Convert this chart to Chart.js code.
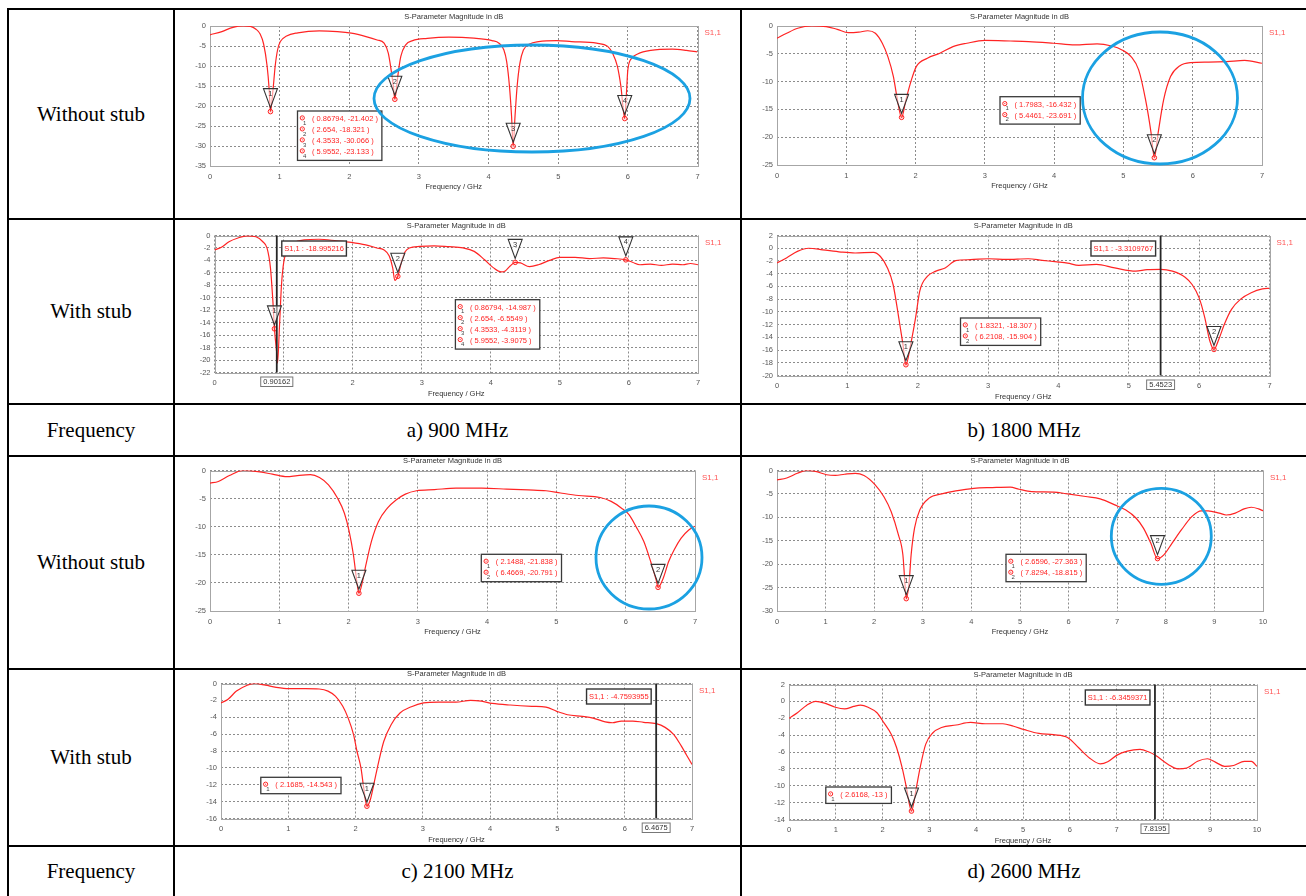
<!DOCTYPE html>
<html>
<head>
<meta charset="utf-8">
<script src="https://cdn.jsdelivr.net/npm/chart.js@4.4.1/dist/chart.umd.min.js"></script>
<style>
  html, body { margin: 0; padding: 0; background: #fff; }
  #page { position: relative; width: 1306px; height: 896px; overflow: hidden; background: #fff; }
  .hl, .vl { position: absolute; background: #000; z-index: 5; }
  .lbl { position: absolute; display: flex; align-items: center; justify-content: center;
         font-family: "Liberation Serif", "Times New Roman", serif; font-size: 21px; color: #000; }
  canvas { position: absolute; }
</style>
</head>
<body>
<div id="page"></div>
<script>
// ---- data (frequency in GHz, S11 in dB) ----
const c1Freq = [0, 0.17, 0.33, 0.48, 0.58, 0.66, 0.72, 0.77, 0.82, 0.85, 0.868, 0.905, 0.936, 0.97, 1.01, 1.1, 1.26, 1.57, 1.83, 2.03,
  2.24, 2.4, 2.5, 2.56, 2.6, 2.633, 2.654, 2.68, 2.705, 2.74, 2.81, 2.91, 3.12, 3.43, 3.79, 4.05, 4.15, 4.22, 4.26, 4.3,
  4.33, 4.353, 4.38, 4.41, 4.45, 4.5, 4.59, 4.72, 4.98, 5.19, 5.55, 5.71, 5.78, 5.85, 5.9, 5.955, 5.98, 6.0, 6.06, 6.14,
  6.33, 6.64, 6.84, 7.0];
const c1S11 = [-2.2, -1.4, -0.33, 0, -0.1, -0.8, -2.0, -4.5, -10, -15.9, -21.4, -15.9, -10, -6, -3.9, -2.5, -1.7, -1.2, -1.4, -1.8,
  -2.65, -3.5, -4.3, -6.8, -10.9, -15.1, -18.3, -15.1, -11.4, -7.6, -4.7, -3.65, -3.1, -2.8, -3.05, -3.65, -4.3, -6, -8.9, -15.1,
  -22.5, -30.07, -22.5, -15.1, -9.3, -6, -4.5, -3.9, -3.65, -3.9, -4.3, -5.1, -6.8, -10.1, -15.1, -23.1, -16.7, -10.9, -8.0, -7.0,
  -6.1, -5.8, -6.1, -6.5];
const c1MarkX = [0.86794, 2.654, 4.3533, 5.9552];
const c1MarkY = [-21.402, -18.321, -30.066, -23.133];

const c2Freq = [0, 0.14, 0.3, 0.5, 0.71, 0.87, 1.03, 1.18, 1.31, 1.42, 1.52, 1.6, 1.68, 1.73, 1.7983, 1.86, 1.94, 2.01, 2.17, 2.35,
  2.54, 2.74, 3.0, 3.37, 3.63, 3.99, 4.3, 4.62, 4.83, 4.98, 5.11, 5.22, 5.32, 5.4, 5.4461, 5.5, 5.58, 5.68, 5.81, 5.97,
  6.23, 6.49, 6.75, 7.0];
const c2S11 = [-2.2, -1.3, -0.4, 0, -0.1, -0.6, -1.2, -1.1, -0.85, -1.3, -3.1, -5.5, -9.1, -12.7, -16.43, -13.3, -9.7, -7.3, -5.8, -4.9,
  -3.7, -3.1, -2.6, -2.7, -2.8, -3.1, -3.4, -3.2, -3.6, -4.3, -5.5, -7.9, -13.3, -19.3, -23.69, -19.3, -13.3, -9.1, -7.2, -6.6,
  -6.5, -6.4, -6.2, -6.7];
const c2MarkX = [1.7983, 5.4461];
const c2MarkY = [-16.432, -23.691];

const c3Freq = [0, 0.1, 0.21, 0.34, 0.47, 0.6, 0.7, 0.76, 0.81, 0.845, 0.868, 0.9016, 0.912, 0.94, 0.97, 1.005, 1.07, 1.15, 1.3, 1.51,
  1.77, 1.98, 2.19, 2.35, 2.45, 2.53, 2.58, 2.61, 2.654, 2.71, 2.76, 2.82, 2.97, 3.18, 3.39, 3.6, 3.76, 3.91, 4.04, 4.15,
  4.21, 4.28, 4.353, 4.43, 4.56, 4.69, 4.85, 5.0, 5.22, 5.43, 5.63, 5.79, 5.955, 6.05, 6.16, 6.31, 6.47, 6.63, 6.78, 6.89,
  7.0];
const c3S11 = [-2.3, -1.9, -1.0, -0.4, -0.05, -0.2, -1.0, -2.0, -5.2, -10.5, -14.99, -19.0, -20.5, -14.8, -7.9, -4.1, -2.3, -1.2, -0.7, -0.6,
  -0.85, -1.1, -1.5, -2.0, -2.3, -3.3, -5.2, -7.2, -6.55, -4.1, -2.6, -2.0, -1.75, -1.65, -1.8, -2.0, -2.55, -3.9, -5.2, -5.85,
  -5.7, -4.9, -4.31, -4.4, -5.0, -4.7, -4.0, -3.5, -3.5, -3.7, -3.6, -3.7, -3.91, -4.3, -4.7, -4.6, -4.8, -4.6, -4.7, -4.5,
  -4.7];
const c3MarkX = [0.86794, 2.654, 4.3533, 5.9552];
const c3MarkY = [-14.987, -6.5549, -4.3119, -3.9075];
const c3CursorX = 0.90162;
const c3CursorVal = "-18.995216";

const c4Freq = [0, 0.14, 0.29, 0.45, 0.65, 0.91, 1.11, 1.37, 1.47, 1.57, 1.65, 1.73, 1.79, 1.8321, 1.9, 1.97, 2.03, 2.14, 2.26, 2.39,
  2.54, 2.75, 3.01, 3.26, 3.57, 3.77, 3.98, 4.13, 4.29, 4.54, 4.8, 5.1, 5.26, 5.4523, 5.62, 5.8, 5.9, 6.0, 6.08, 6.15,
  6.2108, 6.28, 6.36, 6.46, 6.59, 6.74, 6.9, 7.0];
const c4S11 = [-2.3, -1.5, -0.5, 0.0, -0.25, -0.6, -0.75, -0.65, -1.3, -3.1, -5.7, -10.9, -15.1, -18.31, -15.1, -10.9, -6.7, -4.4, -3.6, -3.1,
  -1.95, -1.8, -1.65, -1.75, -1.65, -1.9, -2.15, -2.35, -2.7, -2.55, -3.1, -3.6, -3.35, -3.31, -3.6, -4.55, -5.7, -7.8, -10.9, -14.5,
  -15.9, -14.3, -11.9, -9.6, -8.0, -7.0, -6.4, -6.3];
const c4MarkX = [1.8321, 6.2108];
const c4MarkY = [-18.307, -15.904];
const c4CursorX = 5.4523;
const c4CursorVal = "-3.3109767";

const c5Freq = [0, 0.12, 0.28, 0.48, 0.69, 0.9, 1.11, 1.26, 1.45, 1.58, 1.71, 1.84, 1.94, 2.01, 2.07, 2.12, 2.1488, 2.2, 2.25, 2.33,
  2.43, 2.56, 2.69, 2.82, 2.98, 3.24, 3.55, 3.92, 4.28, 4.59, 4.85, 5.06, 5.32, 5.63, 5.79, 5.94, 6.05, 6.15, 6.26, 6.36,
  6.44, 6.4669, 6.54, 6.62, 6.7, 6.8, 6.91, 7.0];
const c5S11 = [-2.25, -1.95, -0.9, 0, -0.2, -0.65, -1.1, -0.9, -0.75, -1.25, -2.55, -4.9, -7.6, -10.9, -15, -19.8, -21.84, -19.8, -16.8, -12.6,
  -9.1, -6.7, -5.2, -4.2, -3.6, -3.4, -3.15, -3.15, -3.3, -3.45, -3.6, -4.0, -4.45, -4.8, -5.5, -6.7, -7.9, -10, -12.6, -16.2,
  -19.5, -20.79, -19.2, -16.2, -14.1, -12.05, -10.6, -9.9];
const c5MarkX = [2.1488, 6.4669];
const c5MarkY = [-21.838, -20.791];

const c6Freq = [0, 0.2, 0.42, 0.61, 0.79, 1.02, 1.2, 1.39, 1.61, 1.79, 2.02, 2.2, 2.35, 2.5, 2.59, 2.63, 2.6596, 2.72, 2.76, 2.83,
  2.94, 3.13, 3.39, 3.68, 4.05, 4.43, 4.8, 4.98, 5.24, 5.69, 5.98, 6.35, 6.65, 6.95, 7.17, 7.39, 7.54, 7.69, 7.8294, 7.96,
  8.13, 8.32, 8.54, 8.73, 8.87, 9.1, 9.24, 9.43, 9.61, 9.76, 9.91, 10];
const c6S11 = [-2.0, -1.6, -0.6, 0, -0.2, -0.9, -1.05, -0.8, -0.6, -1.05, -3.05, -5.6, -8.8, -13.8, -18, -23.7, -27.36, -23.7, -18, -12.3,
  -8.4, -5.9, -5.0, -4.35, -3.8, -3.65, -3.55, -4.0, -4.5, -4.6, -5.0, -5.55, -6.05, -7.35, -8.4, -10.2, -12.3, -15.5, -18.82, -18,
  -15.5, -12.7, -9.8, -8.6, -8.6, -9.1, -9.5, -9.1, -8.2, -7.85, -8.2, -8.6];
const c6MarkX = [2.6596, 7.8294];
const c6MarkY = [-27.363, -18.815];

const c7Freq = [0, 0.1, 0.23, 0.39, 0.5, 0.66, 0.82, 1.01, 1.25, 1.46, 1.59, 1.7, 1.81, 1.89, 1.97, 2.02, 2.08, 2.12, 2.1685, 2.22,
  2.27, 2.34, 2.42, 2.53, 2.66, 2.83, 3.01, 3.23, 3.49, 3.71, 3.87, 4.03, 4.3, 4.62, 4.83, 4.99, 5.15, 5.37, 5.53, 5.71,
  5.82, 5.95, 6.12, 6.28, 6.4675, 6.6, 6.73, 6.84, 6.92, 7.0];
const c7S11 = [-2.3, -1.9, -0.9, -0.2, 0, -0.2, -0.45, -0.6, -0.6, -0.65, -0.9, -1.5, -2.7, -4.1, -6.05, -8.0, -10, -12.3, -14.54, -13.75,
  -12.0, -9.4, -6.85, -4.85, -3.5, -2.75, -2.3, -2.2, -2.2, -2.0, -2.1, -2.35, -2.55, -2.7, -2.8, -3.3, -3.7, -3.9, -4.1, -4.55,
  -4.65, -4.45, -4.45, -4.6, -4.76, -5.2, -6.05, -7.4, -8.5, -9.6];
const c7MarkX = [2.1685];
const c7MarkY = [-14.543];
const c7CursorX = 6.4675;
const c7CursorVal = "-4.7593955";

const c8Freq = [0, 0.18, 0.38, 0.57, 0.76, 0.99, 1.19, 1.38, 1.53, 1.69, 1.88, 2.03, 2.19, 2.3, 2.42, 2.51, 2.6168, 2.72, 2.8, 2.92,
  3.07, 3.26, 3.57, 3.88, 4.19, 4.57, 4.8, 5.03, 5.34, 5.65, 5.96, 6.19, 6.42, 6.65, 6.81, 7.0, 7.23, 7.5, 7.69, 7.8195,
  8.11, 8.31, 8.5, 8.73, 8.94, 9.11, 9.31, 9.5, 9.73, 9.88, 10];
const c8S11 = [-2.0, -1.35, -0.45, 0, -0.2, -0.7, -0.9, -0.6, -0.45, -0.7, -1.35, -2.55, -3.95, -5.5, -7.9, -10.25, -13, -10.25, -7.9, -5.1,
  -3.75, -3.1, -2.8, -2.5, -2.65, -2.65, -2.95, -3.35, -3.8, -3.95, -4.3, -5.5, -6.7, -7.4, -7.15, -6.4, -5.9, -5.7, -6.0, -6.35,
  -7.5, -8.0, -7.9, -7.1, -6.8, -7.2, -7.7, -7.6, -7.1, -7.1, -7.7];
const c8MarkX = [2.6168];
const c8MarkY = [-13];
const c8CursorX = 7.8195;
const c8CursorVal = "-6.3459371";

// table text
const rowLabels = ["Without stub", "With stub", "Frequency", "Without stub", "With stub", "Frequency"];
const bandLabels = ["a) 900 MHz", "b) 1800 MHz", "c) 2100 MHz", "d) 2600 MHz"];
const chartTitle = "S-Parameter Magnitude in dB";
const xTitle = "Frequency / GHz";
const seriesName = "S1,1";

// ---- layout (page pixels) ----
const page = document.getElementById("page");
const rowTops = [10, 220, 405, 457, 670, 847];
const rowBots = [218, 403, 455, 668, 845, 896];
const colX = [[9, 173], [175, 740], [742, 1306]];

function addLine(cls, x, y, w, h) {
  const d = document.createElement("div");
  d.className = cls;
  d.style.cssText = `left:${x}px;top:${y}px;width:${w}px;height:${h}px`;
  page.appendChild(d);
}
[8, 218, 403, 455, 668, 845].forEach(y => addLine("hl", 7, y, 1306 - 7, 2));
[7, 173, 740].forEach(x => addLine("vl", x, 8, 2, 896 - 8));

function addText(txt, x0, x1, y0, y1) {
  const d = document.createElement("div");
  d.className = "lbl";
  d.textContent = txt;
  d.style.cssText = `left:${x0}px;top:${y0}px;width:${x1 - x0}px;height:${y1 - y0}px`;
  page.appendChild(d);
}
rowLabels.forEach((t, i) => addText(t, colX[0][0], colX[0][1], rowTops[i], rowBots[i]));
addText(bandLabels[0], colX[1][0], colX[1][1], rowTops[2], rowBots[2]);
addText(bandLabels[1], colX[2][0], colX[2][1], rowTops[2], rowBots[2]);
addText(bandLabels[2], colX[1][0], colX[1][1], rowTops[5], rowBots[5]);
addText(bandLabels[3], colX[2][0], colX[2][1], rowTops[5], rowBots[5]);

const RED = "#ff2424";
const FONT = '7.5px "Liberation Sans", Arial, sans-serif';
const BLUE = "#1ba1e2";

const charts = [
  { cell: [175, 10, 565, 208], plot: [210, 697.5, 26, 166], xMax: 7, yMin: -35, yMax: 0, yStep: 5,
    freq: c1Freq, s11: c1S11, mx: c1MarkX, my: c1MarkY, legend: [297.5, 111], ellipse: [532, 98.5, 158, 53.5] },
  { cell: [742, 10, 564, 208], plot: [777, 1262, 26, 165], xMax: 7, yMin: -25, yMax: 0, yStep: 5,
    freq: c2Freq, s11: c2S11, mx: c2MarkX, my: c2MarkY, legend: [1000, 96.7], ellipse: [1160, 98, 77.5, 66] },
  { cell: [175, 220, 565, 183], plot: [214.5, 698, 235.5, 372.5], xMax: 7, yMin: -22, yMax: 0, yStep: 2,
    freq: c3Freq, s11: c3S11, mx: c3MarkX, my: c3MarkY, legend: [455.4, 299.7],
    cursorX: c3CursorX, cursorVal: c3CursorVal, cursorSide: "right" },
  { cell: [742, 220, 564, 183], plot: [777, 1269.5, 235.5, 375.5], xMax: 7, yMin: -20, yMax: 2, yStep: 2,
    freq: c4Freq, s11: c4S11, mx: c4MarkX, my: c4MarkY, legend: [960.5, 318],
    cursorX: c4CursorX, cursorVal: c4CursorVal, cursorSide: "left" },
  { cell: [175, 457, 565, 211], plot: [210, 695, 470.5, 611], xMax: 7, yMin: -25, yMax: 0, yStep: 5,
    freq: c5Freq, s11: c5S11, mx: c5MarkX, my: c5MarkY, legend: [481.3, 554.3], ellipse: [649, 557.5, 53, 51.5] },
  { cell: [742, 457, 564, 211], plot: [777, 1263, 470.5, 611], xMax: 10, yMin: -30, yMax: 0, yStep: 5,
    freq: c6Freq, s11: c6S11, mx: c6MarkX, my: c6MarkY, legend: [1006, 554.3], ellipse: [1161.3, 536.3, 50, 48] },
  { cell: [175, 670, 565, 175], plot: [221, 692, 683.5, 818.5], xMax: 7, yMin: -16, yMax: 0, yStep: 2,
    freq: c7Freq, s11: c7S11, mx: c7MarkX, my: c7MarkY, legend: [260.8, 777.3],
    cursorX: c7CursorX, cursorVal: c7CursorVal, cursorSide: "left" },
  { cell: [742, 670, 564, 175], plot: [789, 1257, 684.5, 819.5], xMax: 10, yMin: -14, yMax: 2, yStep: 2,
    freq: c8Freq, s11: c8S11, mx: c8MarkX, my: c8MarkY, legend: [825.8, 787],
    cursorX: c8CursorX, cursorVal: c8CursorVal, cursorSide: "left" }
];

function boxText(ctx, txt, x, y, w, h, border, bw, color) {
  ctx.fillStyle = "#fff";
  ctx.fillRect(x, y, w, h);
  ctx.strokeStyle = border;
  ctx.lineWidth = bw;
  ctx.strokeRect(x, y, w, h);
  ctx.fillStyle = color;
  ctx.textAlign = "center";
  ctx.textBaseline = "middle";
  ctx.fillText(txt, x + w / 2, y + h / 2 + 0.5);
}

function makePlugin(c, idx) {
  const ox = c.cell[0], oy = c.cell[1];
  return {
    id: "annot" + idx,
    beforeDatasetsDraw(chart) {
      const { ctx, chartArea: a } = chart;
      ctx.save();
      ctx.strokeStyle = "#a6a6a6";
      ctx.lineWidth = 1;
      ctx.strokeRect(Math.round(a.left) + 0.5, Math.round(a.top) + 0.5,
        Math.round(a.right) - Math.round(a.left), Math.round(a.bottom) - Math.round(a.top));
      ctx.restore();
    },
    afterDatasetsDraw(chart) {
      const { ctx, chartArea: a, scales } = chart;
      const x = scales.x, y = scales.y;
      ctx.save();
      ctx.font = FONT;

      // cursor line
      let cpx = null;
      if (c.cursorX !== undefined) {
        cpx = x.getPixelForValue(c.cursorX);
        ctx.strokeStyle = "#262626";
        ctx.lineWidth = 1.8;
        ctx.beginPath();
        ctx.moveTo(cpx, a.top);
        ctx.lineTo(cpx, a.bottom);
        ctx.stroke();
      }

      // marker triangles
      c.mx.forEach((mx, i) => {
        const px = x.getPixelForValue(mx), py = y.getPixelForValue(c.my[i]);
        ctx.beginPath();
        ctx.moveTo(px - 7, py - 23);
        ctx.lineTo(px + 7, py - 23);
        ctx.lineTo(px, py - 4);
        ctx.closePath();
        ctx.fillStyle = "rgba(255,255,255,0.55)";
        ctx.fill();
        ctx.strokeStyle = "#333";
        ctx.lineWidth = 1.1;
        ctx.stroke();
        ctx.fillStyle = "#333";
        ctx.textAlign = "center";
        ctx.textBaseline = "middle";
        ctx.fillText(String(i + 1), px, py - 17.5);
      });

      // marker legend box
      const lines = c.mx.map((mx, i) => "( " + mx + ", " + c.my[i] + " )");
      const tw = Math.max(...lines.map(t => ctx.measureText(t).width));
      const lx = c.legend[0] - ox, ly = c.legend[1] - oy;
      const lw = 14.5 + tw + 4, lh = 7.4 + (lines.length - 1) * 11 + 9;
      ctx.fillStyle = "#fff";
      ctx.fillRect(lx, ly, lw, lh);
      ctx.strokeStyle = "#3a3a3a";
      ctx.lineWidth = 1.3;
      ctx.strokeRect(lx, ly, lw, lh);
      lines.forEach((t, i) => {
        const cy = ly + 7.4 + i * 11;
        ctx.strokeStyle = RED;
        ctx.lineWidth = 1;
        ctx.beginPath();
        ctx.arc(lx + 4.8, cy - 0.5, 2.1, 0, Math.PI * 2);
        ctx.stroke();
        ctx.fillStyle = RED;
        ctx.fillRect(lx + 4.3, cy - 1, 1, 1);
        ctx.fillStyle = "#444";
        ctx.font = '6px "Liberation Sans", Arial, sans-serif';
        ctx.textAlign = "left";
        ctx.textBaseline = "middle";
        ctx.fillText(String(i + 1), lx + 5.5, cy + 4.5);
        ctx.font = FONT;
        ctx.fillStyle = RED;
        ctx.fillText(t, lx + 14.5, cy + 0.5);
      });

      // cursor readout boxes
      if (cpx !== null) {
        const top = seriesName + " : " + c.cursorVal;
        const w1 = ctx.measureText(top).width + 5;
        const bx = c.cursorSide === "right" ? cpx + 5 : cpx - 5 - w1;
        boxText(ctx, top, bx, a.top + 5.5, w1, 15, "#333", 1.4, RED);
        const bot = String(c.cursorX);
        const w2 = ctx.measureText(bot).width + 5;
        boxText(ctx, bot, cpx - w2 / 2, a.bottom + 4.5, w2, 9.5, "#777", 1, "#333");
      }

      // titles
      ctx.textBaseline = "middle";
      ctx.textAlign = "center";
      ctx.fillStyle = "#333";
      ctx.fillText(chartTitle, (a.left + a.right) / 2, a.top - 9.5);
      ctx.fillText(xTitle, (a.left + a.right) / 2, a.bottom + 21);
      ctx.font = '8px "Liberation Sans", Arial, sans-serif';
      ctx.textAlign = "left";
      ctx.fillStyle = "#ff5555";
      ctx.fillText(seriesName, a.right + 7, a.top + 7);

      // hand-drawn highlight ellipse
      if (c.ellipse) {
        const [ex, ey, rx, ry] = c.ellipse;
        ctx.strokeStyle = BLUE;
        ctx.lineWidth = 2.8;
        ctx.beginPath();
        ctx.ellipse(ex - ox, ey - oy, rx, ry, 0, 0, Math.PI * 2);
        ctx.stroke();
      }
      ctx.restore();
    }
  };
}

charts.forEach((c, idx) => {
  const [cx, cy, cw, ch] = c.cell;
  const [pl, pr, pt, pb] = c.plot;
  const cv = document.createElement("canvas");
  cv.width = cw;
  cv.height = ch;
  cv.style.cssText = `left:${cx}px;top:${cy}px;width:${cw}px;height:${ch}px`;
  page.appendChild(cv);

  const yW = pl - cx, xH = 24;
  const tickFont = { family: "Liberation Sans", size: 7.5 };

  new Chart(cv, {
    type: "line",
    data: {
      datasets: [
        {
          data: c.freq.map((f, i) => ({ x: f, y: c.s11[i] })),
          borderColor: RED,
          borderWidth: 1.2,
          pointRadius: 0,
          tension: 0.4,
          cubicInterpolationMode: "monotone",
          fill: false
        },
        {
          data: c.mx.map((f, i) => ({ x: f, y: c.my[i] })),
          showLine: false,
          pointRadius: 2.3,
          pointBorderWidth: 1,
          pointBorderColor: RED,
          pointBackgroundColor: "rgba(255,190,190,0.5)"
        }
      ]
    },
    options: {
      responsive: false,
      animation: false,
      events: [],
      layout: { padding: { left: 0, top: pt - cy, right: cx + cw - pr, bottom: cy + ch - pb - xH } },
      plugins: { legend: { display: false }, tooltip: { enabled: false }, title: { display: false } },
      scales: {
        x: {
          type: "linear", min: 0, max: c.xMax,
          ticks: { stepSize: 1, padding: 6, font: tickFont, color: "#555", maxRotation: 0, autoSkip: false,
                   callback: v => String(v) },
          grid: { color: "#8c8c8c", lineWidth: 1, drawTicks: false },
          border: { display: false, dash: [2, 2] },
          afterFit: s => { s.height = xH; }
        },
        y: {
          type: "linear", min: c.yMin, max: c.yMax,
          ticks: { stepSize: c.yStep, padding: 4, font: tickFont, color: "#555", autoSkip: false,
                   callback: v => String(v) },
          grid: { color: "#8c8c8c", lineWidth: 1, drawTicks: false },
          border: { display: false, dash: [2, 2] },
          afterFit: s => { s.width = yW; }
        }
      }
    },
    plugins: [makePlugin(c, idx)]
  });
});
</script>
</body>
</html>
